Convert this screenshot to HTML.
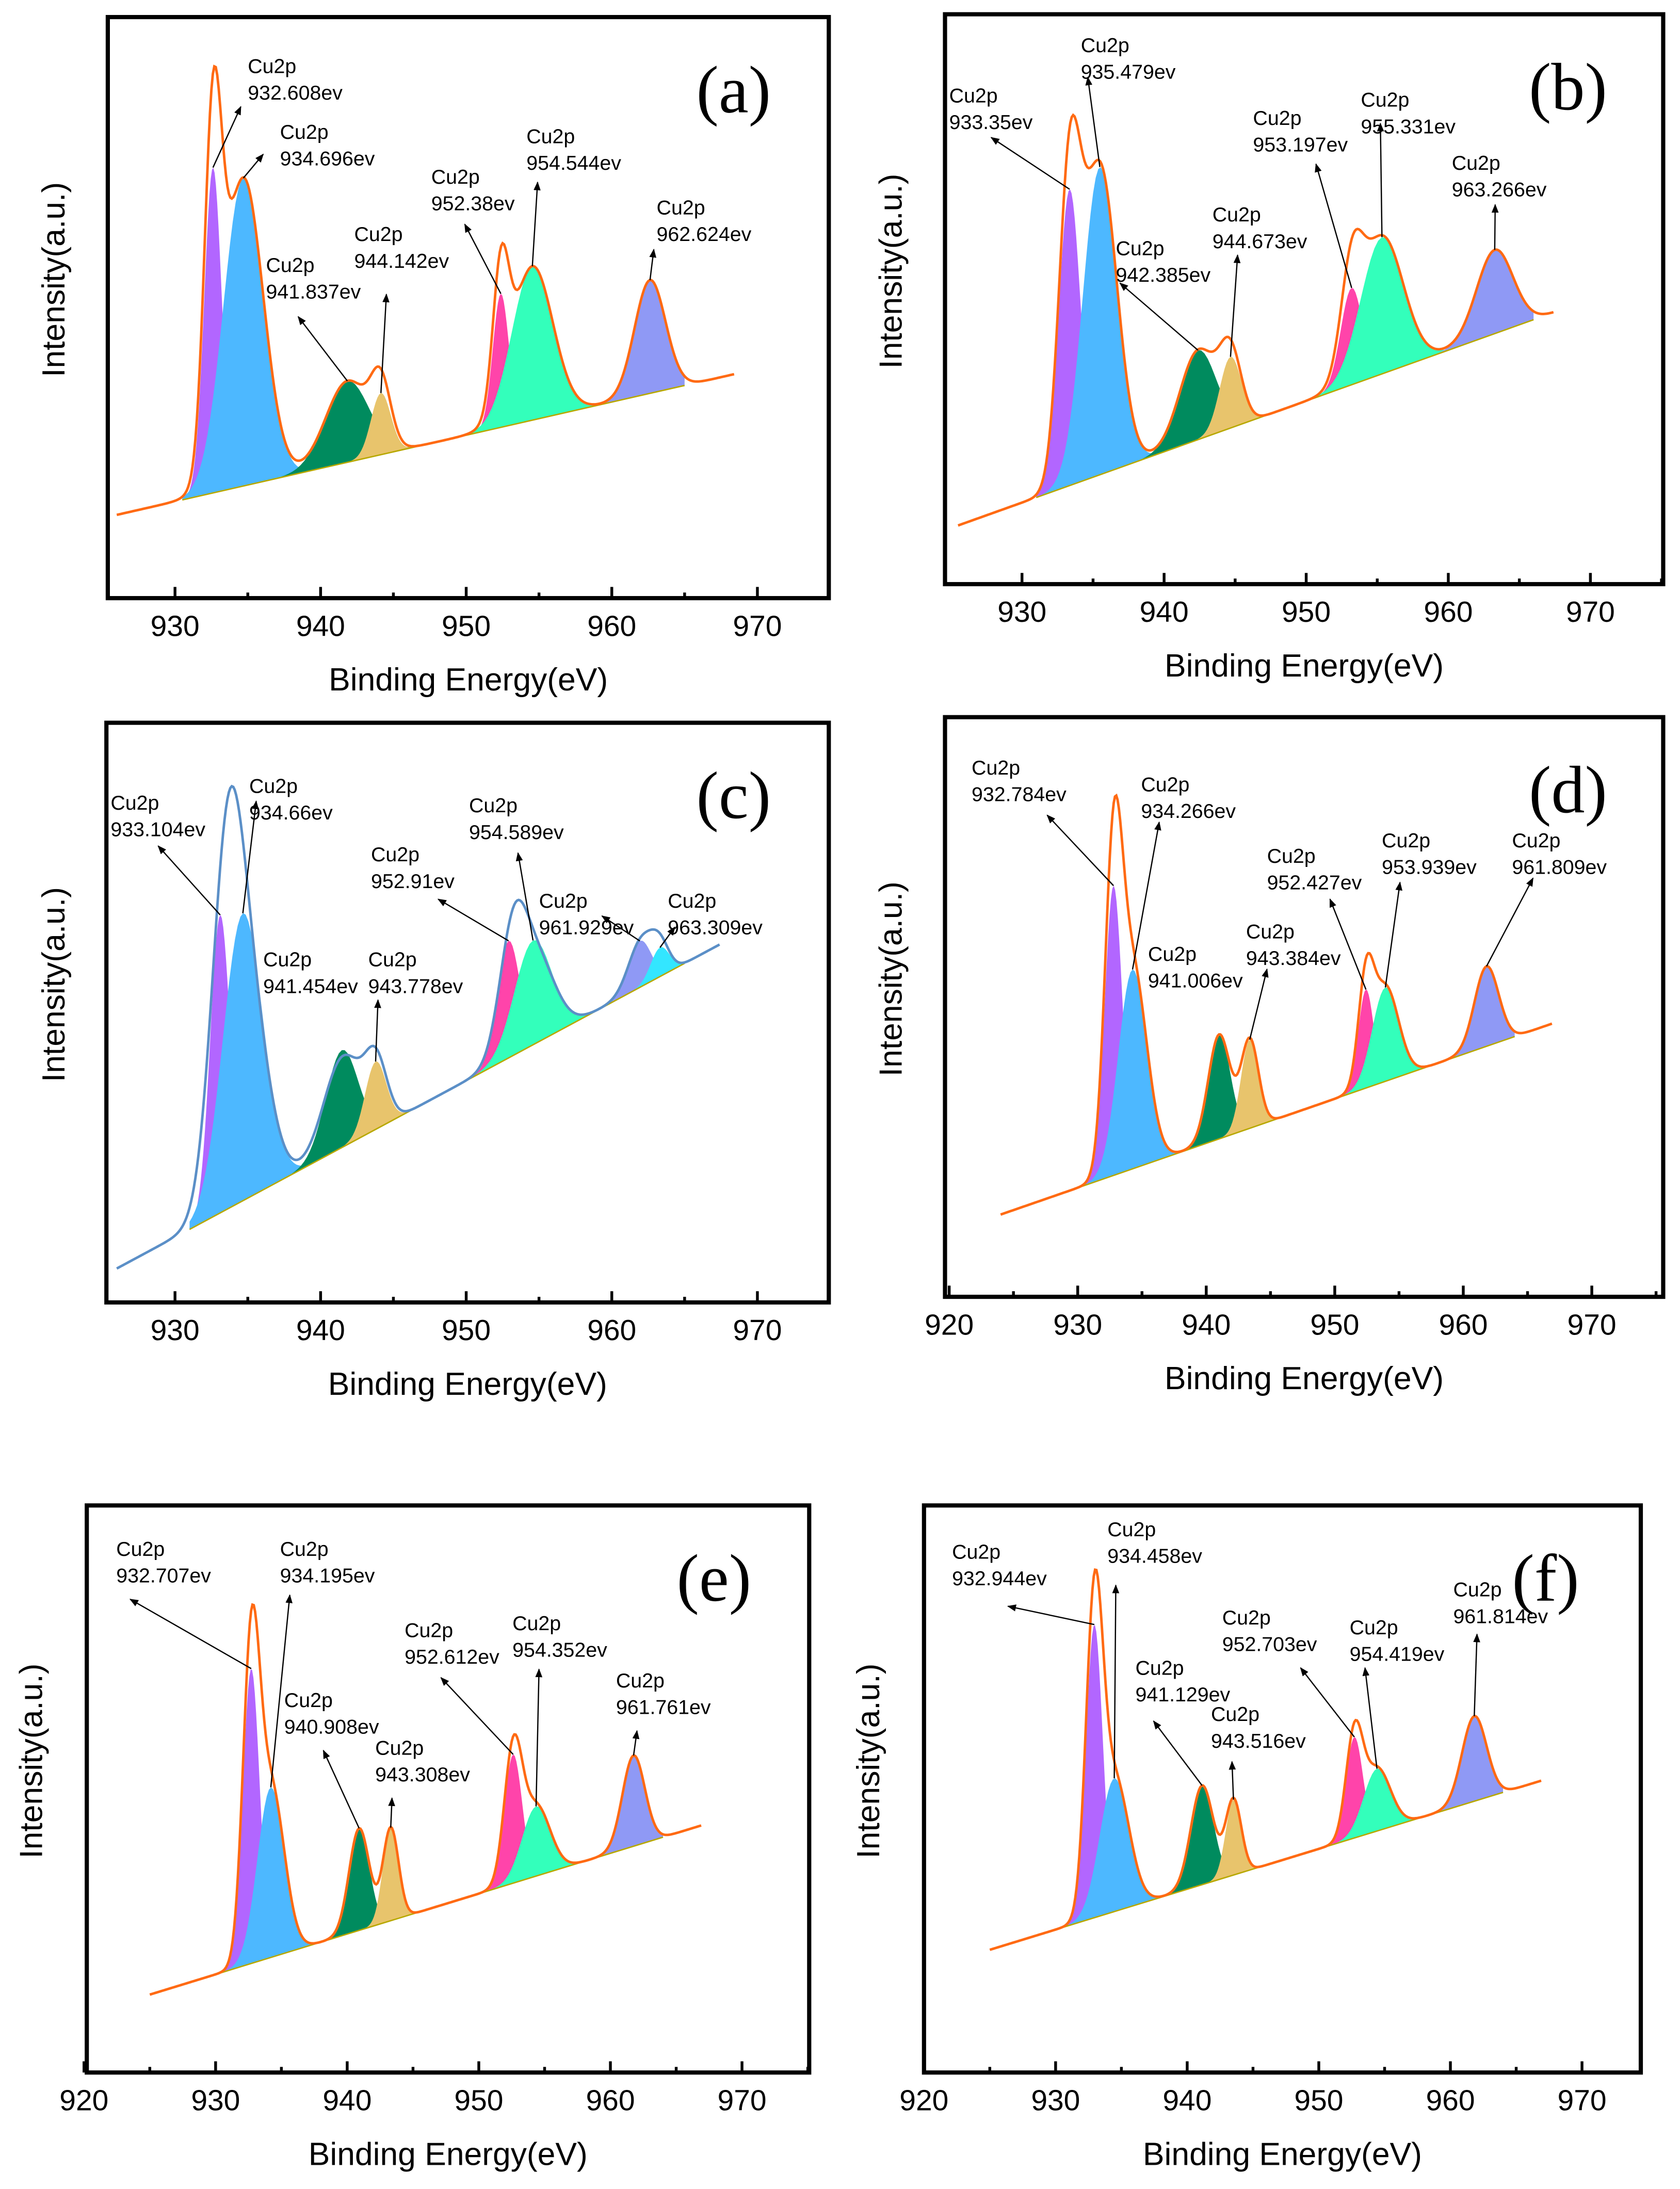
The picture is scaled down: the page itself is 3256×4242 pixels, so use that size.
<!DOCTYPE html>
<html><head><meta charset="utf-8"><style>
html,body{margin:0;padding:0;background:#fff}
svg{display:block}
</style></head><body>
<svg id="fig" width="3256" height="4242" viewBox="0 0 1200 1563" xmlns="http://www.w3.org/2000/svg" font-family="Liberation Sans, sans-serif"></svg>
<script>
// ---- data (energies eV, intensities 0-100 of frame height) ----
const peakColors = ['#b266ff','#4db8ff','#008b5e','#e8c46c','#ff44aa','#33ffbb','#8f99f5','#33e6ff'];
const aCenters = [932.608,934.696,941.837,944.142,952.38,954.544,962.624];
const aHeights = [56,53,14,10.6,23,26.5,19.5];
const aWidths  = [1.4,3.2,3.5,1.6,1.3,3.3,2.5];
const bCenters = [933.35,935.479,942.385,944.673,953.197,955.331,963.266];
const bHeights = [52,54,15.7,12.5,17,24,14.7];
const bWidths  = [1.8,2.8,3,1.8,1.8,3.5,3];
const cCenters = [933.104,934.66,941.454,943.778,952.91,954.589,961.929,963.309];
const cHeights = [51.4,49.6,16.8,11.7,20.2,18,8,5];
const cWidths  = [1.6,3.2,2.6,1.7,1.8,3,1.8,1.5];
const cEnvCenters = [933.6,935.2,941.5,943.8,953.2,954.8,962,963.3];
const cEnvHeights = [58,28,15.6,11,19,14,8,5];
const cEnvWidths  = [2.6,3,3,1.8,2.2,3,2,1.5];
const dCenters = [932.784,934.266,941.006,943.384,952.427,953.939,961.809];
const dHeights = [50,34.4,18,15.3,17,16.2,13.8];
const dWidths  = [1.6,2.6,2,1.6,1.4,2.4,2.2];
const eCenters = [932.707,934.195,940.908,943.308,952.612,954.352,961.761];
const eHeights = [52,30,18,16.4,22.7,12.3,16];
const eWidths  = [1.5,2.4,1.8,1.4,1.6,2.5,2];
const fCenters = [932.944,934.458,941.129,943.516,952.703,954.419,961.814];
const fHeights = [51.7,23.5,17.5,13.3,17.8,11,15];
const fWidths  = [1.5,2.6,2,1.4,1.5,2.4,2.2];
const aTicks=[930,940,950,960,970], dTicks=[920,930,940,950,960,970];

const panels = [
 {id:'a',centers:aCenters,heights:aHeights,widths:aWidths,ticks:aTicks,fx0:77,fx1:592,fy0:12,fy1:427,ea:930,xa:125,k:10.4,
  bl:[930.5,16.9,965,36.6],rng:[926,968.5],env:'#ff6a13',ylx:38,
  lab:[[177,52,172,76],[200,99,188,110],[190,194,213,226],[253,172,276,210],[308,131,332,160],[376,102,384,130],[469,153,467,178]]},
 {id:'b',centers:bCenters,heights:bHeights,widths:bWidths,ticks:aTicks,fx0:675,fx1:1188,fy0:10,fy1:417,ea:930,xa:730,k:10.15,
  bl:[931,15.2,966,46.4],rng:[925.5,967.5],env:'#ff6a13',ylx:636,
  lab:[[678,73,708,98],[772,37,777,55],[797,182,800,202],[866,158,884,182],[895,89,940,117],[972,76,986,88],[1037,121,1068,146]]},
 {id:'c',centers:cCenters,heights:cHeights,widths:cWidths,ticks:aTicks,fx0:76,fx1:592,fy0:516,fy1:930,ea:930,xa:125,k:10.4,
  bl:[931,12.6,965,58.5],rng:[926,967.5],env:'#5b8fc7',ylx:38,envC:cEnvCenters,envH:cEnvHeights,envW:cEnvWidths,
  lab:[[79,578,113,604],[178,566,183,572],[188,690,0,0],[263,690,270,714],[265,615,313,642],[335,580,370,609],[385,648,430,654],[477,648,482,662]]},
 {id:'d',centers:dCenters,heights:dHeights,widths:dWidths,ticks:dTicks,fx0:675,fx1:1188,fy0:512,fy1:926,ea:920,xa:678,k:9.18,
  bl:[930,18.8,964,44.9],rng:[924,967],env:'#ff6a13',ylx:636,
  lab:[[694,553,748,582],[815,565,828,587],[820,686,0,0],[890,670,905,692],[905,616,950,642],[987,605,1000,630],[1080,605,1095,627]]},
 {id:'e',centers:eCenters,heights:eHeights,widths:eWidths,ticks:dTicks,fx0:62,fx1:578,fy0:1075,fy1:1480,ea:920,xa:60,k:9.4,
  bl:[930,17.3,964,41.5],rng:[925,967],env:'#ff6a13',ylx:22,
  lab:[[83,1111,93,1142],[200,1111,207,1139],[203,1219,231,1250],[268,1253,280,1284],[289,1169,315,1198],[366,1164,385,1192],[440,1205,455,1236]]},
 {id:'f',centers:fCenters,heights:fHeights,widths:fWidths,ticks:dTicks,fx0:660,fx1:1172,fy0:1075,fy1:1480,ea:920,xa:660,k:9.4,
  bl:[930,25.2,964,49.4],rng:[925,967],env:'#ff6a13',ylx:620,
  lab:[[680,1113,720,1147],[791,1097,797,1132],[811,1196,824,1229],[865,1229,880,1258],[873,1160,929,1191],[964,1167,975,1191],[1038,1140,1055,1167]]}
];
const NS='http://www.w3.org/2000/svg';
const svg=document.getElementById('fig');
const defs=document.createElementNS(NS,'defs');
defs.innerHTML='<marker id="arr" viewBox="0 0 10 10" refX="9" refY="5" markerWidth="7" markerHeight="7" orient="auto"><path d="M0,1 L10,5 L0,9 z" fill="#000"/></marker>';
svg.appendChild(defs);
function mk(tag,attrs,parent){const e=document.createElementNS(NS,tag);for(const k in attrs)e.setAttribute(k,attrs[k]);(parent||svg).appendChild(e);return e;}
function g(x,c,h,w){const s=w/2.3548;return h*Math.exp(-((x-c)*(x-c))/(2*s*s));}

panels.forEach(p=>{
  const grp=mk('g',{});
  
  
  const X=e=>p.xa+(e-p.ea)*p.k;
  const Y=v=>p.fy1-v/100*(p.fy1-p.fy0);
  const base=e=>p.bl[1]+(e-p.bl[0])*(p.bl[3]-p.bl[1])/(p.bl[2]-p.bl[0]);
  // components
  p.centers.forEach((c,i)=>{
    const w=p.widths[i],h=p.heights[i];
    let pts=[];
    const lo=Math.max(c-2.3*w,p.bl[0]),hi=Math.min(c+2.3*w,p.bl[2]);
    for(let e=lo;e<=hi+1e-9;e+=(hi-lo)/60) pts.push(X(e).toFixed(2)+','+Y(base(e)+g(e,c,h,w)).toFixed(2));
    pts.push(X(hi).toFixed(2)+','+Y(base(hi)).toFixed(2));pts.push(X(lo).toFixed(2)+','+Y(base(lo)).toFixed(2));
    const pl=mk('polygon',{points:pts.join(' '),fill:peakColors[i],stroke:'none'},grp);
    
    
  });
  // baseline
  const bln=mk('line',{x1:X(p.bl[0]),y1:Y(p.bl[1]),x2:X(p.bl[2]),y2:Y(p.bl[3]),stroke:'#b8a800',"stroke-width":1},grp);
  
  
  // envelope
  const ec=p.envC||p.centers, eh=p.envH||p.heights, ew=p.envW||p.widths;
  let d='';
  for(let e=p.rng[0];e<=p.rng[1];e+=0.1){let v=base(e);ec.forEach((c,i)=>v+=g(e,c,eh[i],ew[i]));d+=(d?'L':'M')+X(e).toFixed(2)+','+Y(v).toFixed(2);}
  const env=mk('path',{d:d,fill:'none',stroke:p.env,"stroke-width":1.8},grp);
  
  
  // frame
  const fr=mk('rect',{x:p.fx0,y:p.fy0,width:p.fx1-p.fx0,height:p.fy1-p.fy0,fill:'none',stroke:'#000',"stroke-width":3},grp);
  
  
  // ticks
  p.ticks.forEach(t=>{
    const x=X(t);
    const tk=mk('line',{x1:x,y1:p.fy1,x2:x,y2:p.fy1-8,stroke:'#000',"stroke-width":2},grp);
    
    
    if(X(t+5)<p.fx1){const mt=mk('line',{x1:X(t+5),y1:p.fy1,x2:X(t+5),y2:p.fy1-4,stroke:'#000',"stroke-width":2},grp);
      
      }
    const tl=mk('text',{x:x,y:p.fy1+27,"font-size":21,"text-anchor":"middle",fill:'#000'},grp);
    tl.textContent=t;
    
    
  });
  const xt=mk('text',{x:(p.fx0+p.fx1)/2,y:p.fy1+66,"font-size":23,"text-anchor":"middle",fill:'#000'},grp);
  xt.textContent='Binding Energy(eV)';
  
  
  const yc=(p.fy0+p.fy1)/2-20;
  const yt=mk('text',{x:p.ylx,y:yc,"font-size":23,"text-anchor":"middle",fill:'#000',transform:'rotate(-90 '+p.ylx+' '+yc+')',dy:8},grp);
  yt.textContent='Intensity(a.u.)';
  
  
  const pl=mk('text',{x:p.fx1-68,y:p.fy0+68,"font-size":48,"text-anchor":"middle",fill:'#000',"font-family":"Liberation Serif, serif"},grp);
  pl.textContent='('+p.id+')';
  
  
  // annotations
  p.centers.forEach((c,i)=>{
    const L=p.lab[i];
    const t1=mk('text',{x:L[0],y:L[1],"font-size":14.5,fill:'#000'},grp);
    t1.textContent='Cu2p';
    
    
    const t2=mk('text',{x:L[0],y:L[1]+19,"font-size":14.5,fill:'#000'},grp);
    t2.textContent=c.toFixed(3).replace(/0+$/,'').replace(/\.$/,'')+'ev';
    
    
    if(L[2]){
      let v=base(c)+g(c,c,p.heights[i],p.widths[i]);
      const ar=mk('line',{x1:X(c),y1:Y(v),x2:L[2],y2:L[3],stroke:'#000',"stroke-width":0.9,"marker-end":"url(#arr)"},grp);
      
      
    }
  });
});
</script>
</body></html>
